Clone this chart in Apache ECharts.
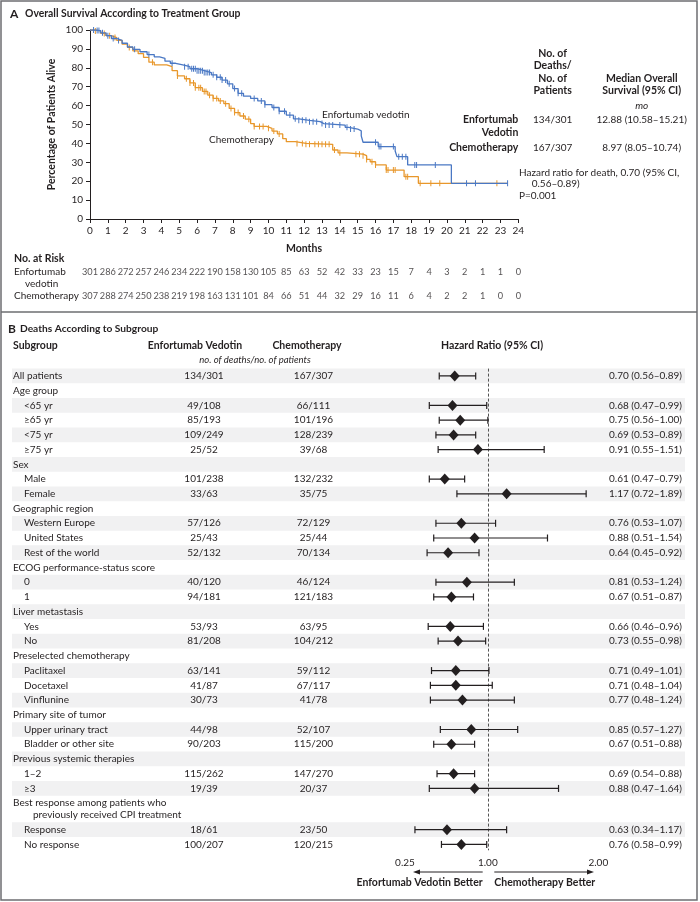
<!DOCTYPE html>
<html><head><meta charset="utf-8">
<script src="https://cdn.jsdelivr.net/npm/echarts@6/dist/echarts.min.js"></script>
<style>html,body{margin:0;padding:0;background:#fff}#c{width:700px;height:902px}</style>
</head><body><div id="c"></div>
<script>
// ---------- Panel A data ----------
const monthTicks = [0,1,2,3,4,5,6,7,8,9,10,11,12,13,14,15,16,17,18,19,20,21,22,23,24];
const evAtRisk = [301,286,272,257,246,234,222,190,158,130,105,85,63,52,42,33,23,15,7,4,3,2,1,1,0];
const chemoAtRisk = [307,288,274,250,238,219,198,163,131,101,84,66,51,44,32,29,16,11,6,4,2,2,1,0,0];
const evCurve = [[0,100],[0.3,99.7],[0.6,98.5],[0.9,97],[1.2,95.5],[1.5,94.5],[1.8,93],[2.1,91],[2.4,89.8],[2.8,88.5],[3.2,87],[3.6,85.8],[3.9,85],[4.2,83.5],[4.5,82.4],[4.8,81.5],[5.2,80.6],[5.6,79.5],[6.0,78.5],[6.4,77.5],[6.8,76.3],[7.1,75],[7.4,73.5],[7.7,71.5],[8.0,69],[8.3,66.5],[8.6,65],[9.0,63.8],[9.4,62.5],[9.8,60.5],[10.2,59],[10.6,57],[11.0,55],[11.4,53],[11.7,52.2],[12.3,51.5],[12.9,50.5],[13.1,49.7],[14.3,48.5],[14.5,47.6],[15.0,46.6],[15.2,44],[15.3,40.6],[16.15,38.3],[17.1,36],[17.2,33],[17.8,28.6],[20.25,18.9],[23.4,18.9]];
const chemoCurve = [[0,100],[0.3,99.5],[0.6,98.2],[0.9,97],[1.2,96],[1.5,94.5],[1.8,92.5],[2.1,90.8],[2.4,89],[2.7,87.5],[3.0,85.5],[3.3,83],[3.6,81.5],[4.3,80.6],[4.6,78.5],[4.9,75.7],[5.3,74.2],[5.6,72],[5.9,69.5],[6.3,67.5],[6.6,65.5],[6.9,63.8],[7.2,62.5],[7.5,61],[7.8,58.5],[8.1,56.3],[8.4,54.5],[8.7,52.8],[9.0,50.5],[9.2,49],[9.9,48],[10.2,46.5],[10.5,45],[10.8,42.5],[11.0,40.9],[11.5,40],[12.1,39.5],[13.6,36.5],[13.9,35],[14.4,34.3],[15.3,33.5],[15.5,31.5],[15.7,30.3],[16.0,28.6],[16.6,25.9],[17.6,22.4],[18.4,18.9],[23.4,18.9]];
const evCensor = [0.2,0.4,0.5,0.7,1.0,1.3,1.6,2.5,3.3,4.6,5.3,5.5,5.7,5.8,5.9,6.0,6.1,6.2,6.3,6.4,6.5,6.6,6.7,6.9,7.1,7.3,7.4,7.6,7.8,8.1,8.3,8.5,9.2,9.6,9.8,10.3,10.6,10.9,11.2,11.5,11.7,11.9,12.1,12.3,12.5,12.7,13.0,13.2,13.4,13.6,14.0,14.4,14.6,14.8,16.0,16.2,16.3,17.0,17.3,17.5,17.7,18.2,18.3,19.35,21.1,21.6,23.4];
const chemoCensor = [0.3,0.8,1.1,1.4,2.2,3.5,4.9,5.4,5.6,5.8,5.9,6.1,6.2,6.4,6.5,6.7,6.9,7.1,7.3,7.6,7.9,8.1,8.3,8.6,8.9,9.2,9.5,9.7,10.0,10.3,10.6,11.6,11.9,12.1,12.3,12.6,12.8,13.0,13.2,13.4,13.7,14.0,14.9,15.1,15.3,15.5,15.8,16.0,16.6,16.7,17.0,17.1,17.7,17.8,18.5,19.1,19.6,22.8];

// ---------- Panel B data ----------
const subgroups = ['All patients','Age group','<65 yr','≥65 yr','<75 yr','≥75 yr','Sex','Male','Female','Geographic region','Western Europe','United States','Rest of the world','ECOG performance-status score','0','1','Liver metastasis','Yes','No','Preselected chemotherapy','Paclitaxel','Docetaxel','Vinflunine','Primary site of tumor','Upper urinary tract','Bladder or other site','Previous systemic therapies','1–2','≥3','Best response among patients who\npreviously received CPI treatment','Response','No response'];
const evCounts = ['134/301','','49/108','85/193','109/249','25/52','','101/238','33/63','','57/126','25/43','52/132','','40/120','94/181','','53/93','81/208','','63/141','41/87','30/73','','44/98','90/203','','115/262','19/39','','18/61','100/207'];
const chemoCounts = ['167/307','','66/111','101/196','128/239','39/68','','132/232','35/75','','72/129','25/44','70/134','','46/124','121/183','','63/95','104/212','','59/112','67/117','41/78','','52/107','115/200','','147/270','20/37','','23/50','120/215'];
const hr = [0.70,null,0.68,0.75,0.69,0.91,null,0.61,1.17,null,0.76,0.88,0.64,null,0.81,0.67,null,0.66,0.73,null,0.71,0.71,0.77,null,0.85,0.67,null,0.69,0.88,null,0.63,0.76];
const lo = [0.56,null,0.47,0.56,0.53,0.55,null,0.47,0.72,null,0.53,0.51,0.45,null,0.53,0.51,null,0.46,0.55,null,0.49,0.48,0.48,null,0.57,0.51,null,0.54,0.47,null,0.34,0.58];
const hi = [0.89,null,0.99,1.00,0.89,1.51,null,0.79,1.89,null,1.07,1.54,0.92,null,1.24,0.87,null,0.96,0.98,null,1.01,1.04,1.24,null,1.27,0.88,null,0.88,1.64,null,1.17,0.99];
const hrTicks = [0.25, 1.00, 2.00];

// ---------- styling ----------
const FONT = 'Lato, "Open Sans", sans-serif';
const INK = '#231f20';
const BLUE = '#4a78c4';
const ORANGE = '#e8972b';
const BAND = '#f1f1f2';
const BODY = 10;

function stepValue(curve, t){ let v = curve[0][1]; for (const p of curve){ if (p[0] <= t) v = p[1]; else break; } return v; }
const evCensorData = evCensor.map(t => [t, stepValue(evCurve, t)]);
const chemoCensorData = chemoCensor.map(t => [t, stepValue(chemoCurve, t)]);
const riskData = [];
monthTicks.forEach((m,i) => { riskData.push([m, 0, evAtRisk[i]]); riskData.push([m, 1, chemoAtRisk[i]]); });

const pos = []; let p = 0;
subgroups.forEach((s,i) => { pos.push(p); p += s.indexOf('\n') >= 0 ? 1.8 : 1; });
const rowData = subgroups.map((s,i) => [1, pos[i], i]);
const diamondData = []; hr.forEach((h,i) => { if (h != null) diamondData.push([h, pos[i]]); });

function T(x, y, text, o){ o = o || {}; return {type:'text', x, y, rotation: o.rot || 0, z: 50, style:{text, fill: o.fill || INK, fontFamily: FONT, fontSize: o.size || BODY, fontWeight: o.bold ? 'bold' : 'normal', fontStyle: o.italic ? 'italic' : 'normal', align: o.align || 'left', verticalAlign: 'middle'}}; }

const graphics = [
  {type:'rect', shape:{x:1, y:1, width:696, height:899}, style:{fill:'none', stroke:'#6d6e71', lineWidth:1.5}, silent:true},
  {type:'line', shape:{x1:1, y1:312, x2:697, y2:312}, style:{stroke:'#6d6e71', lineWidth:1.5}},
  T(10, 14, 'A', {bold:true, size:12}),
  T(25, 14, 'Overall Survival According to Treatment Group', {bold:true, size:10.4}),
  T(52, 124.5, 'Percentage of Patients Alive', {bold:true, rot:Math.PI/2, align:'center', size:10.5}),
  T(304, 249, 'Months', {bold:true, align:'center', size:10.5}),
  T(14, 259, 'No. at Risk', {bold:true, size:10.5}),
  T(14, 271.7, 'Enfortumab'), T(25, 284, 'vedotin'), T(14, 295.7, 'Chemotherapy'),
  T(322, 114.3, 'Enfortumab vedotin'), T(209, 140, 'Chemotherapy'),
  T(552.7, 53.3, 'No. of', {bold:true, align:'center', size:10.5}),
  T(552.7, 66, 'Deaths/', {bold:true, align:'center', size:10.5}),
  T(552.7, 78.3, 'No. of', {bold:true, align:'center', size:10.5}),
  T(552.7, 90.7, 'Patients', {bold:true, align:'center', size:10.5}),
  T(641.7, 78.3, 'Median Overall', {bold:true, align:'center', size:10.5}),
  T(641.7, 90.7, 'Survival (95% CI)', {bold:true, align:'center', size:10.5}),
  T(641.7, 106, 'mo', {italic:true, align:'center'}),
  T(518.3, 120, 'Enfortumab', {bold:true, align:'right', size:10.5}),
  T(518.3, 132.7, 'Vedotin', {bold:true, align:'right', size:10.5}),
  T(518.3, 147.3, 'Chemotherapy', {bold:true, align:'right', size:10.5}),
  T(552.7, 120, '134/301', {align:'center'}), T(552.7, 147.3, '167/307', {align:'center'}),
  T(641.7, 120, '12.88 (10.58–15.21)', {align:'center'}), T(641.7, 147.3, '8.97 (8.05–10.74)', {align:'center'}),
  T(519, 172.7, 'Hazard ratio for death, 0.70 (95% CI,'), T(531.7, 184, '0.56–0.89)'), T(519, 195.7, 'P=0.001'),
  // panel B
  T(8, 329, 'B', {bold:true, size:12}),
  T(20, 329, 'Deaths According to Subgroup', {bold:true, size:10.2}),
  T(13, 346, 'Subgroup', {bold:true, size:10.5}),
  T(195, 346, 'Enfortumab Vedotin', {bold:true, align:'center', size:10.5}),
  T(307, 346, 'Chemotherapy', {bold:true, align:'center', size:10.5}),
  T(492, 346, 'Hazard Ratio (95% CI)', {bold:true, align:'center', size:10.5}),
  T(255, 360, 'no. of deaths/no. of patients', {italic:true, align:'center', size:9.5}),
  {type:'line', shape:{x1:482.7, y1:872, x2:418, y2:872}, style:{stroke:INK, lineWidth:1}},
  {type:'polygon', shape:{points:[[413,872],[420,869.4],[420,874.6]]}, style:{fill:INK}},
  {type:'line', shape:{x1:494.3, y1:872, x2:588, y2:872}, style:{stroke:INK, lineWidth:1}},
  {type:'polygon', shape:{points:[[594,872],[587,869.4],[587,874.6]]}, style:{fill:INK}},
  T(482.7, 882.7, 'Enfortumab Vedotin Better', {bold:true, align:'right', size:10.5}),
  T(494.3, 882.7, 'Chemotherapy Better', {bold:true, size:10.5})
];

const axisTxt = {color: INK, fontFamily: FONT, fontSize: 10};
const option = {
  animation: false,
  backgroundColor: '#fff',
  grid: [
    {left: 90, top: 30, width: 428.3, height: 189},
    {left: 90, top: 259.7, width: 428.3, height: 48},
    {left: 405, top: 368.6, width: 193.3, height: 481.7}
  ],
  xAxis: [
    {gridIndex:0, type:'value', min:0, max:24, interval:1, axisLine:{lineStyle:{color:INK, width:1}}, axisTick:{length:4, lineStyle:{color:INK}}, axisLabel:{...axisTxt, margin:7}, splitLine:{show:false}},
    {gridIndex:1, type:'value', min:0, max:24, interval:1, show:false},
    {gridIndex:2, type:'value', min:0.25, max:2.0, axisLine:{lineStyle:{color:INK, width:1}},
      axisTick:{show:true, length:4, customValues: hrTicks, lineStyle:{color:INK}},
      axisLabel:{...axisTxt, margin:7, customValues: hrTicks, formatter: v => Number(v).toFixed(2)}, splitLine:{show:false}}
  ],
  yAxis: [
    {gridIndex:0, type:'value', min:0, max:100, interval:10, axisLine:{show:true, lineStyle:{color:INK, width:1}}, axisTick:{show:true, length:4, lineStyle:{color:INK}}, axisLabel:{...axisTxt, margin:7}, splitLine:{show:false}},
    {gridIndex:1, type:'category', data:['ev','chemo'], inverse:true, show:false},
    {gridIndex:2, type:'value', min:-0.5, max:32.2, inverse:true, show:false}
  ],
  graphic: graphics,
  series: [
    {type:'line', xAxisIndex:0, yAxisIndex:0, step:'end', data: chemoCurve, showSymbol:false, lineStyle:{color:ORANGE, width:1.3}, z:3},
    {type:'line', xAxisIndex:0, yAxisIndex:0, step:'end', data: evCurve, showSymbol:false, lineStyle:{color:BLUE, width:1.3}, z:4},
    {type:'scatter', xAxisIndex:0, yAxisIndex:0, data: chemoCensorData, symbol:'rect', symbolSize:[1,6], itemStyle:{color:ORANGE, opacity:1}, z:3},
    {type:'scatter', xAxisIndex:0, yAxisIndex:0, data: evCensorData, symbol:'rect', symbolSize:[1,6], itemStyle:{color:BLUE, opacity:1}, z:4},
    {type:'scatter', xAxisIndex:1, yAxisIndex:1, data: riskData, symbolSize:1, itemStyle:{color:'rgba(0,0,0,0)'}, labelLayout:{hideOverlap:false},
      label:{show:true, position:'inside', formatter: pr => String(pr.value[2]), color:INK, fontFamily:FONT, fontSize:9.2}},
    // forest: bands and text columns
    {type:'custom', xAxisIndex:2, yAxisIndex:2, data: rowData, z:1, clip:false,
      renderItem: function(params, api){
        const i = api.value(2);
        const cy = api.coord([1, api.value(1)])[1];
        const rh = api.size([0, 1])[1];
        const ch = [];
        if (i % 2 === 0) ch.push({type:'rect', shape:{x:12, y:cy - rh/2, width:673, height:rh}, style:{fill:BAND}});
        const lines = subgroups[i].split('\n');
        const indent = (hr[i] != null && i > 0);
        const ts = (t, x, y, al) => ({type:'text', x, y, style:{text:t, fontFamily:FONT, fontSize:BODY, fill:INK, align: al || 'left', verticalAlign:'middle'}});
        ch.push(ts(lines[0], indent ? 24 : 13, cy));
        if (lines[1]) ch.push(ts(lines[1], 33, cy + 11.3));
        if (evCounts[i]) ch.push(ts(evCounts[i], 204, cy, 'center'));
        if (chemoCounts[i]) ch.push(ts(chemoCounts[i], 313.5, cy, 'center'));
        if (hr[i] != null) ch.push(ts(hr[i].toFixed(2) + ' (' + lo[i].toFixed(2) + '–' + hi[i].toFixed(2) + ')', 682, cy, 'right'));
        return {type:'group', children: ch};
      }},
    // forest: CI whiskers
    {type:'custom', xAxisIndex:2, yAxisIndex:2, data: rowData.filter(r => hr[r[2]] != null), z:5, clip:false,
      renderItem: function(params, api){
        const i = api.value(2);
        const a = api.coord([lo[i], api.value(1)]);
        const b = api.coord([hi[i], api.value(1)]);
        const st = {stroke:INK, lineWidth:1.2};
        return {type:'group', children:[
          {type:'line', shape:{x1:a[0], y1:a[1], x2:b[0], y2:b[1]}, style:st},
          {type:'line', shape:{x1:a[0], y1:a[1]-3.5, x2:a[0], y2:a[1]+3.5}, style:st},
          {type:'line', shape:{x1:b[0], y1:b[1]-3.5, x2:b[0], y2:b[1]+3.5}, style:st}
        ]};
      }},
    {type:'scatter', xAxisIndex:2, yAxisIndex:2, data: diamondData, symbol:'diamond', symbolSize:[10,11], itemStyle:{color:INK, opacity:1}, z:6,
      markLine:{silent:true, symbol:'none', label:{show:false}, lineStyle:{color:'#555', type:[3,2], width:1}, data:[{xAxis:1}]}}
  ]
};
const chart = echarts.init(document.getElementById('c'), null, {renderer:'canvas'});
chart.setOption(option);
</script></body></html>
